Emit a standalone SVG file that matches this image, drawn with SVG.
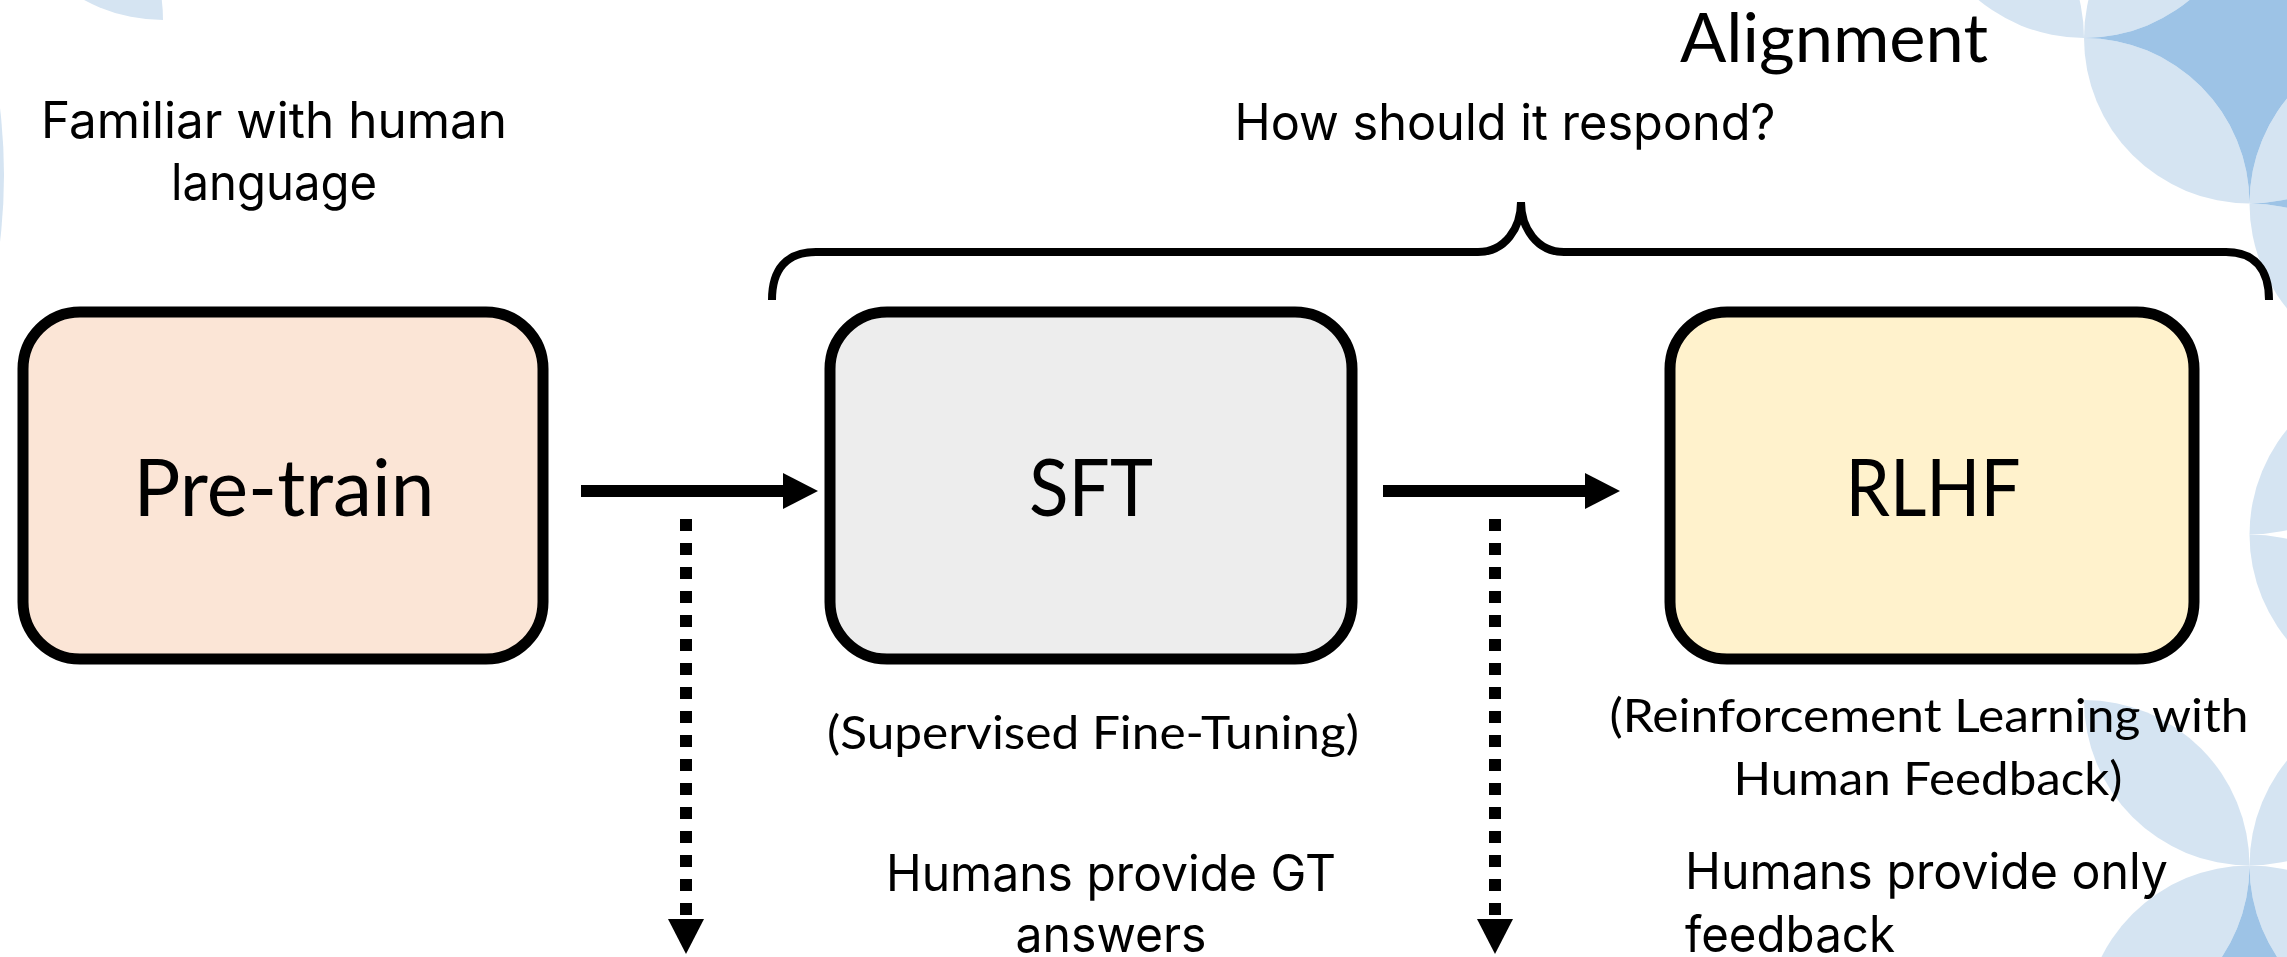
<svg xmlns="http://www.w3.org/2000/svg" width="2287" height="957" viewBox="0 0 2287 957">
  <defs>
    <style>
      .light { fill: #D5E4F2; }
      .dark { fill: #9DC3E6; }
      .box { stroke: #000; stroke-width: 11; }
      .big { font-family: Lato, "Open Sans", sans-serif; font-size: 80px; fill: #000; }
      .sub { font-family: Lato, "Open Sans", sans-serif; font-size: 47px; fill: #000; }
      .head { font-family: Lato, "Open Sans", sans-serif; font-size: 68px; fill: #000; }
      .note { font-family: Inter, "Noto Sans", sans-serif; font-size: 50px; fill: #000; }
      .flow { stroke: #000; stroke-width: 12; fill: none; }
      .dots { stroke: #000; stroke-width: 12; stroke-dasharray: 12 12; fill: none; }
      .brace { stroke: #000; stroke-width: 8; fill: none; }
    </style>
    <marker id="arrowhead" viewBox="0 0 35 36" markerUnits="userSpaceOnUse" markerWidth="35" markerHeight="36" refX="0" refY="18" orient="auto">
      <path d="M0,0 L35,18 L0,36 Z" fill="#000"/>
    </marker>
  </defs>

  <rect width="2287" height="957" fill="#fff"/>

  <!-- decorative petal pattern: lenses of overlapping circles (r = 165.5) -->
  <g id="backdrop">
    <path class="light" d="M1918.5,-127.5 A165.5,165.5 0 0 1 2084,38 A165.5,165.5 0 0 1 1918.5,-127.5 Z"/>
    <path class="light" d="M2084,38 A165.5,165.5 0 0 1 2249.5,-127.5 A165.5,165.5 0 0 1 2084,38 Z"/>
    <path class="light" d="M2084,38 A165.5,165.5 0 0 1 2249.5,203.5 A165.5,165.5 0 0 1 2084,38 Z"/>
    <path class="light" d="M2249.5,203.5 A165.5,165.5 0 0 1 2415,38 A165.5,165.5 0 0 1 2249.5,203.5 Z"/>
    <path class="light" d="M2249.5,203.5 A165.5,165.5 0 0 1 2415,369 A165.5,165.5 0 0 1 2249.5,203.5 Z"/>
    <path class="light" d="M2249.5,534.5 A165.5,165.5 0 0 1 2415,369 A165.5,165.5 0 0 1 2249.5,534.5 Z"/>
    <path class="light" d="M2249.5,534.5 A165.5,165.5 0 0 1 2415,700 A165.5,165.5 0 0 1 2249.5,534.5 Z"/>
    <path class="light" d="M2249.5,865.5 A165.5,165.5 0 0 1 2415,700 A165.5,165.5 0 0 1 2249.5,865.5 Z"/>
    <path class="light" d="M2249.5,865.5 A165.5,165.5 0 0 1 2415,1031 A165.5,165.5 0 0 1 2249.5,865.5 Z"/>
    <path class="light" d="M2084,700 A165.5,165.5 0 0 1 2249.5,865.5 A165.5,165.5 0 0 1 2084,700 Z"/>
    <path class="light" d="M2084,1031 A165.5,165.5 0 0 1 2249.5,865.5 A165.5,165.5 0 0 1 2084,1031 Z"/>
    <!-- four-point stars between lenses -->
    <path class="dark" d="M2415,38 A165.5,165.5 0 0 0 2249.5,203.5 A165.5,165.5 0 0 0 2084,38 A165.5,165.5 0 0 0 2249.5,-127.5 A165.5,165.5 0 0 0 2415,38 Z"/>
    <path class="dark" d="M2580.5,203.5 A165.5,165.5 0 0 0 2415,369 A165.5,165.5 0 0 0 2249.5,203.5 A165.5,165.5 0 0 0 2415,38 A165.5,165.5 0 0 0 2580.5,203.5 Z"/>
    <path class="dark" d="M2415,1031 A165.5,165.5 0 0 0 2249.5,1196.5 A165.5,165.5 0 0 0 2084,1031 A165.5,165.5 0 0 0 2249.5,865.5 A165.5,165.5 0 0 0 2415,1031 Z"/>
    <!-- upper-left corner pieces -->
    <path class="light" d="M-2.5,-145.5 A165.5,165.5 0 0 1 163,20 A165.5,165.5 0 0 1 -2.5,-145.5 Z"/>
    <circle class="light" cx="-560" cy="175" r="564"/>
  </g>

  <!-- bracket over the alignment stages -->
  <g id="alignment-bracket">
    <path class="brace" d="M772,300 C772,270 786,252 816,252 L1478,252 C1505,252 1521,228 1521,202 C1521,228 1537,252 1564,252 L2226,252 C2255,252 2269,270 2269,300"/>
    <text class="head" x="1834" y="62" text-anchor="middle" textLength="308" lengthAdjust="spacingAndGlyphs">Alignment</text>
    <text class="note" x="1505" y="140" text-anchor="middle" textLength="541" lengthAdjust="spacingAndGlyphs">How should it respond?</text>
  </g>

  <g id="pretrain">
    <rect class="box" x="23" y="312" width="520" height="347" rx="57" fill="#FBE5D6"/>
    <text class="big" x="284" y="516" text-anchor="middle" textLength="301" lengthAdjust="spacingAndGlyphs">Pre-train</text>
    <text class="note" x="274" y="138" text-anchor="middle" textLength="466" lengthAdjust="spacingAndGlyphs">Familiar with human</text>
    <text class="note" x="274" y="200" text-anchor="middle" textLength="206" lengthAdjust="spacingAndGlyphs">language</text>
  </g>

  <g id="sft">
    <rect class="box" x="830" y="312" width="522" height="347" rx="57" fill="#EDEDED"/>
    <text class="big" x="1091" y="516" text-anchor="middle" textLength="124" lengthAdjust="spacingAndGlyphs">SFT</text>
    <text class="sub" x="1093" y="749" text-anchor="middle" textLength="532" lengthAdjust="spacingAndGlyphs">(Supervised Fine-Tuning)</text>
    <text class="note" x="1111" y="891" text-anchor="middle" textLength="450" lengthAdjust="spacingAndGlyphs">Humans provide GT</text>
    <text class="note" x="1111" y="952" text-anchor="middle" textLength="191" lengthAdjust="spacingAndGlyphs">answers</text>
  </g>

  <g id="rlhf">
    <rect class="box" x="1670" y="312" width="524" height="347" rx="57" fill="#FFF2CC"/>
    <text class="big" x="1933" y="516" text-anchor="middle" textLength="175" lengthAdjust="spacingAndGlyphs">RLHF</text>
    <text class="sub" x="1929" y="732" text-anchor="middle" textLength="639" lengthAdjust="spacingAndGlyphs">(Reinforcement Learning with</text>
    <text class="sub" x="1928" y="795" text-anchor="middle" textLength="389" lengthAdjust="spacingAndGlyphs">Human Feedback)</text>
    <text class="note" x="1685" y="889" textLength="483" lengthAdjust="spacingAndGlyphs">Humans provide only</text>
    <text class="note" x="1685" y="952" textLength="210" lengthAdjust="spacingAndGlyphs">feedback</text>
  </g>

  <g id="connectors">
    <line class="flow" x1="581" y1="491" x2="783" y2="491" marker-end="url(#arrowhead)"/>
    <line class="flow" x1="1383" y1="491" x2="1585" y2="491" marker-end="url(#arrowhead)"/>
    <line class="dots" x1="686" y1="519" x2="686" y2="919" marker-end="url(#arrowhead)"/>
    <line class="dots" x1="1495" y1="519" x2="1495" y2="919" marker-end="url(#arrowhead)"/>
  </g>
</svg>
